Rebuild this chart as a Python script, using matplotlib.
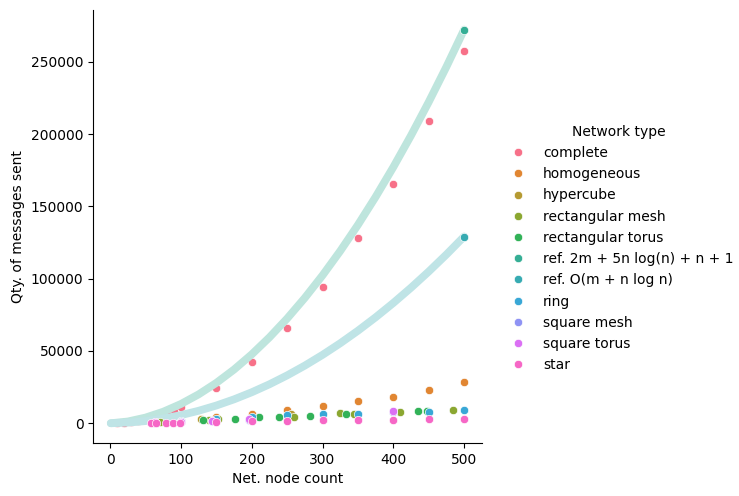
import matplotlib
matplotlib.use("Agg")
import matplotlib.pyplot as plt
from matplotlib.lines import Line2D
from matplotlib.colors import to_rgb
import seaborn as sns

hue_order = ["complete", "homogeneous", "hypercube", "rectangular mesh",
             "rectangular torus", "ref. 2m + 5n log(n) + n + 1",
             "ref. O(m + n log n)", "ring", "square mesh", "square torus", "star"]

complete_n = [10, 20, 30, 40, 50, 60, 70, 80, 90, 100, 150, 200, 250, 300, 350, 400, 450, 500]
complete_v = [110, 430, 950, 1700, 2700, 3900, 5300, 7000, 8900, 11000, 24200, 42200,
              65800, 94200, 128100, 165500, 209100, 257600]

homog_n = [100, 150, 200, 250, 300, 350, 400, 450, 500]
homog_v = [1700, 4000, 6700, 9000, 11800, 15700, 18200, 23300, 28400]

hyper_n = [64, 128, 256]
hyper_v = [1000, 2600, 6200]

rmesh_n = [70, 139, 153, 260, 325, 345, 410, 484]
rmesh_v = [600, 2500, 3200, 4600, 7200, 6200, 7800, 9000]

rtorus_n = [131, 176, 210, 239, 282, 333, 435, 447]
rtorus_v = [2500, 3200, 4400, 4500, 5100, 6200, 8500, 8700]

ref1_n = [1, 25, 50, 75, 100, 125, 150, 175, 200, 225, 250, 275, 300, 325, 350,
          375, 400, 425, 450, 475, 500]
ref1_v = [3, 1206, 3912, 7962, 13323, 19980, 27923, 37146, 47645, 59417, 72458,
          86768, 102344, 119186, 137291, 156659, 177289, 199180, 222332, 246745, 272415]

ref2_n = [1, 25, 50, 75, 100, 125, 150, 175, 200, 225, 250, 275, 300, 325, 350,
          375, 400, 425, 450, 475, 500]
ref2_v = [0, 416, 1507, 3242, 5614, 8621, 12259, 16529, 21429, 26958, 33116,
          39903, 47319, 55362, 64033, 73331, 83258, 93811, 104991, 116799, 129233]

ring_n = [100, 150, 200, 250, 300, 350, 400, 450, 500]
ring_v = [1500, 3000, 4000, 5500, 6200, 6700, 8000, 7800, 9500]

smesh_n = [64, 100, 144, 196, 400]
smesh_v = [480, 900, 1600, 2500, 7600]

storus_n = [64, 100, 144, 196, 400]
storus_v = [550, 1000, 1800, 2800, 8300]

star_n = [58, 65, 79, 89, 99, 150, 200, 250, 300, 350, 400, 450, 500]
star_v = [250, 300, 380, 430, 500, 1000, 1400, 1600, 2000, 2500, 2500, 2800, 3200]

point_series = {
    "complete": (complete_n, complete_v),
    "homogeneous": (homog_n, homog_v),
    "hypercube": (hyper_n, hyper_v),
    "rectangular mesh": (rmesh_n, rmesh_v),
    "rectangular torus": (rtorus_n, rtorus_v),
    "ring": (ring_n, ring_v),
    "square mesh": (smesh_n, smesh_v),
    "square torus": (storus_n, storus_v),
    "star": (star_n, star_v),
}
ref_series = {
    "ref. 2m + 5n log(n) + n + 1": (ref1_n, ref1_v),
    "ref. O(m + n log n)": (ref2_n, ref2_v),
}

pal = sns.color_palette("husl", len(hue_order))
colors = dict(zip(hue_order, pal))


def pale(c, f):
    r, g, b = to_rgb(c)
    return (1 - f + f * r, 1 - f + f * g, 1 - f + f * b)


fig = plt.figure(figsize=(7.39, 4.96), dpi=100)
ax = fig.add_axes([0.126, 0.107, 0.526, 0.873])

S = 36
LW = 0.08 * S ** 0.5

for name in hue_order:
    if name in point_series:
        n, v = point_series[name]
        z = 1.0 if name == "complete" else 2.5
        ax.scatter(n, v, s=S, color=colors[name], edgecolor="white",
                   linewidth=LW, zorder=z)
    else:
        n, v = ref_series[name]
        ax.plot(n, v, color=pale(colors[name], 0.32), linewidth=5.6,
                solid_capstyle="round", solid_joinstyle="round", zorder=1.5)
        ax.scatter(n[-1:], v[-1:], s=S, color=colors[name], edgecolor="white",
                   linewidth=LW, zorder=2)

ax.set_xlabel("Net. node count")
ax.set_ylabel("Qty. of messages sent")
ax.spines["top"].set_visible(False)
ax.spines["right"].set_visible(False)

handles = [Line2D([], [], marker="o", linestyle="", markersize=6,
                  markerfacecolor=colors[h], markeredgecolor="white",
                  markeredgewidth=LW) for h in hue_order]
ax.legend(handles, hue_order, title="Network type", loc="center left",
          bbox_to_anchor=(0.665, 0.499), bbox_transform=fig.transFigure,
          frameon=False, labelspacing=0.52)

fig.savefig("out.png", dpi=100)
